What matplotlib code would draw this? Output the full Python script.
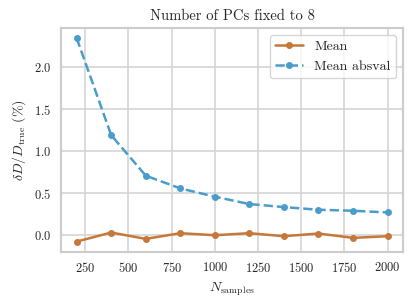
import numpy as np
import matplotlib
matplotlib.use('Agg')
import matplotlib.pyplot as plt
import seaborn as sns

# data
n_samples = [200, 400, 600, 800, 1000, 1200, 1400, 1600, 1800, 2000]
mean_err = [-0.08, 0.028, -0.048, 0.02, -0.004, 0.02, -0.016, 0.016, -0.036, -0.016]
mean_abs_err = [2.35, 1.19, 0.707, 0.555, 0.456, 0.368, 0.332, 0.30, 0.288, 0.268]

sns.set_style('whitegrid')
plt.rcParams['font.family'] = ['cmr10', 'DejaVu Serif']
plt.rcParams['mathtext.fontset'] = 'cm'
plt.rcParams['axes.formatter.use_mathtext'] = True
plt.rcParams['font.size'] = 9

fig, ax = plt.subplots(figsize=(4.13, 3.07), dpi=100)
ax.plot(n_samples, mean_err, '-o', color='#c5783a', lw=1.8, ms=4, label='Mean')
ax.plot(n_samples, mean_abs_err, '--o', color='#4a9dcb', lw=1.8, ms=4, label='Mean absval')

ax.set_title('Number of PCs fixed to 8', fontsize=10.5)
ax.set_xlabel(r'$N_{\rm samples}$', fontsize=10)
ax.set_ylabel(r'$\delta D / D_{\rm true}$ (%)', fontsize=10)
ax.set_xticks([250, 500, 750, 1000, 1250, 1500, 1750, 2000])
ax.set_yticks([0.0, 0.5, 1.0, 1.5, 2.0])
ax.grid(color='#d5d5d5', lw=1.2)
for s in ax.spines.values():
    s.set_color('#cccccc')
    s.set_linewidth(1.5)
ax.legend(loc='upper right', fontsize=10)

fig.subplots_adjust(left=0.148, right=0.976, top=0.909, bottom=0.18)
fig.savefig('out.png', dpi=100)
